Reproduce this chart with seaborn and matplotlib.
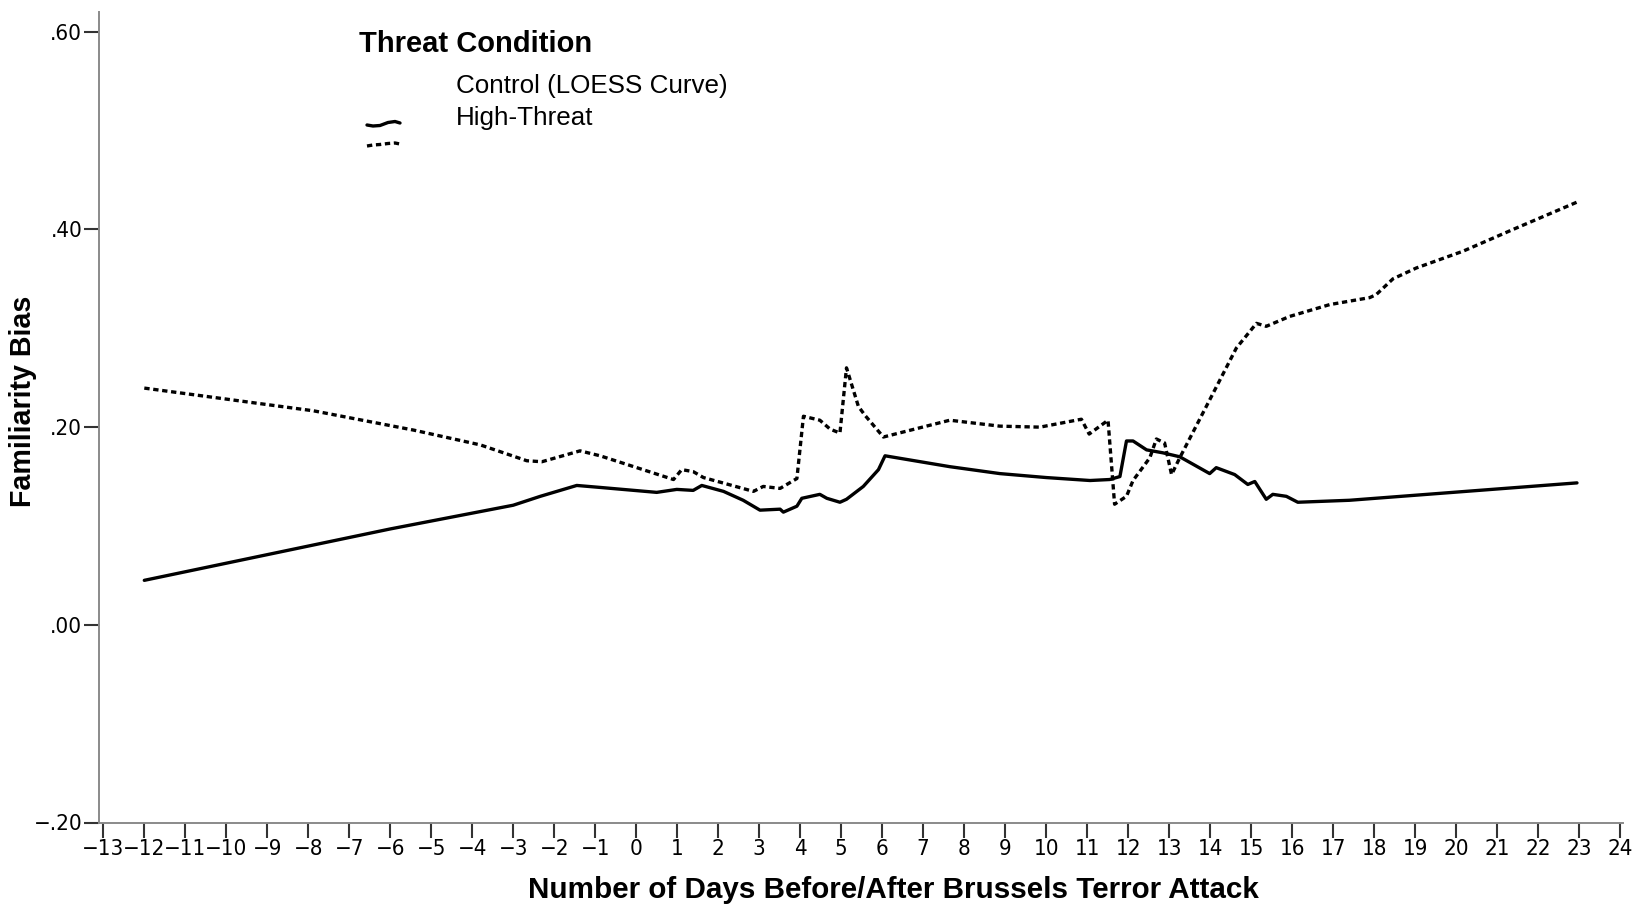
import matplotlib
matplotlib.use("Agg")
import matplotlib.pyplot as plt
from matplotlib.lines import Line2D
from matplotlib.ticker import FixedLocator, FixedFormatter
import pandas as pd
import seaborn as sns

# Smoothed familiarity bias by day relative to the attack
control_days = [-12, -9, -6, -4, -3, -2.34, -1.45, -0.88, 0.50, 0.99, 1.39, 1.60,
                2.13, 2.61, 3.02, 3.51, 3.59, 3.92, 4.04, 4.48, 4.65, 4.97, 5.13,
                5.54, 5.91, 6.07, 7.65, 8.87, 10.0, 11.07, 11.55, 11.80, 11.96,
                12.12, 12.45, 12.85, 13.26, 13.99, 14.15, 14.60, 14.92, 15.09,
                15.37, 15.53, 15.86, 16.14, 17.40, 22.95]
control_bias = [0.045, 0.071, 0.097, 0.113, 0.121, 0.130, 0.141, 0.139, 0.134,
                0.137, 0.136, 0.141, 0.135, 0.126, 0.116, 0.117, 0.114, 0.120,
                0.128, 0.132, 0.128, 0.124, 0.127, 0.140, 0.157, 0.171, 0.160,
                0.153, 0.149, 0.146, 0.147, 0.150, 0.186, 0.186, 0.177, 0.174,
                0.170, 0.153, 0.159, 0.152, 0.142, 0.145, 0.127, 0.132, 0.130,
                0.124, 0.126, 0.1436]

threat_days = [-12, -7.87, -5.43, -3.80, -2.67, -2.30, -1.37, -0.88, 0.91, 1.11,
               1.39, 1.64, 2.86, 3.10, 3.51, 3.92, 4.08, 4.48, 4.73, 4.97, 5.13,
               5.42, 5.58, 6.03, 7.65, 8.87, 9.85, 10.86, 11.05, 11.51, 11.67,
               11.96, 12.12, 12.53, 12.69, 12.89, 13.06, 13.26, 14.07, 14.64,
               15.13, 15.37, 15.94, 16.92, 17.89, 18.05, 18.46, 19.03, 20.17,
               21.39, 22.97]
threat_bias = [0.2395, 0.2165, 0.197, 0.182, 0.166, 0.165, 0.176, 0.171, 0.147,
               0.157, 0.155, 0.149, 0.135, 0.140, 0.138, 0.148, 0.211, 0.207,
               0.198, 0.194, 0.260, 0.221, 0.212, 0.190, 0.207, 0.201, 0.200,
               0.208, 0.193, 0.207, 0.122, 0.130, 0.146, 0.169, 0.188, 0.184,
               0.152, 0.169, 0.234, 0.280, 0.305, 0.302, 0.312, 0.324, 0.331,
               0.334, 0.350, 0.361, 0.378, 0.400, 0.428]

x_ticks = list(range(-13, 25))
x_tick_labels = [("\u2212" + str(-t)) if t < 0 else str(t) for t in x_ticks]
y_ticks = [-0.2, 0.0, 0.2, 0.4, 0.6]
y_tick_labels = ["\u2212.20", ".00", ".20", ".40", ".60"]
legend_title = "Threat Condition"
legend_labels = ["Control (LOESS Curve)", "High-Threat"]

sns.set_style("white")
plt.rcParams["font.family"] = ["Liberation Sans", "DejaVu Sans"]
plt.rcParams["text.color"] = "black"
plt.rcParams["axes.labelcolor"] = "black"

W, H = 1646, 910
fig = plt.figure(figsize=(W / 100, H / 100), dpi=100)
ax = fig.add_axes([99 / W, 87.5 / H, (1623.3 - 99) / W, (822.5 - 12) / H])

ctrl = pd.DataFrame({"day": control_days, "bias": control_bias})
thr = pd.DataFrame({"day": threat_days, "bias": threat_bias})
sns.lineplot(data=ctrl, x="day", y="bias", ax=ax, color="black",
             linewidth=2.4, estimator=None, sort=True)
sns.lineplot(data=thr, x="day", y="bias", ax=ax, color="black",
             linewidth=2.4, linestyle=(0, (1.6, 1.1)), estimator=None, sort=True)

ax.set_xlim(-13.105, 24.08)
ax.set_ylim(-0.2, 0.62)
ax.xaxis.set_major_locator(FixedLocator(x_ticks))
ax.xaxis.set_major_formatter(FixedFormatter(x_tick_labels))
ax.yaxis.set_major_locator(FixedLocator(y_ticks))
ax.yaxis.set_major_formatter(FixedFormatter(y_tick_labels))

for s in ["top", "right"]:
    ax.spines[s].set_visible(False)
for s in ["left", "bottom"]:
    ax.spines[s].set_color("#8a8a8a")
    ax.spines[s].set_linewidth(1.4)

ax.tick_params(axis="x", bottom=True, direction="out", length=10.5, width=1.5,
               color="#333333", pad=1.5, labelsize=16, labelcolor="black")
ax.tick_params(axis="y", left=True, direction="out", length=11, width=1.5,
               color="#333333", pad=1, labelsize=16, labelcolor="black")
for lbl in ax.get_xticklabels() + ax.get_yticklabels():
    lbl.set_family("DejaVu Sans")
    lbl.set_stretch("condensed")

ax.set_xlabel("Number of Days Before/After Brussels Terror Attack",
              fontsize=21.3, fontweight="bold")
ax.set_ylabel("Familiarity Bias", fontsize=20.6, fontweight="bold")
ax.xaxis.set_label_coords((893 - 99) / (1623.3 - 99), -(890 - 822.5) / 810.5)
ax.yaxis.set_label_coords((23 - 99) / (1623.3 - 99), (822.5 - 401) / 810.5)
ax.xaxis.label.set_va("center")
ax.yaxis.label.set_va("center")

# Legend block
def fx(px):
    return px / W

def fy(py):
    return 1 - py / H

fig.text(fx(359), fy(44), legend_title, fontsize=21, fontweight="bold",
         va="center", ha="left")
fig.text(fx(456), fy(86), legend_labels[0], fontsize=18.7, va="center", ha="left")
fig.text(fx(456), fy(118), legend_labels[1], fontsize=18.7, va="center", ha="left")

glyph_x = [367, 373, 380, 388, 395, 400]
solid_y = [125, 126, 125.5, 122.5, 121.5, 123]
dot_y = [146, 145, 144.5, 143.5, 143, 144]
fig.add_artist(Line2D([fx(v) for v in glyph_x], [fy(v) for v in solid_y],
                      color="black", linewidth=2.4, transform=fig.transFigure))
fig.add_artist(Line2D([fx(v) for v in glyph_x], [fy(v) for v in dot_y],
                      color="black", linewidth=2.4, linestyle=(0, (1.6, 1.1)),
                      transform=fig.transFigure))

fig.savefig("out.png", dpi=100, facecolor="white")
